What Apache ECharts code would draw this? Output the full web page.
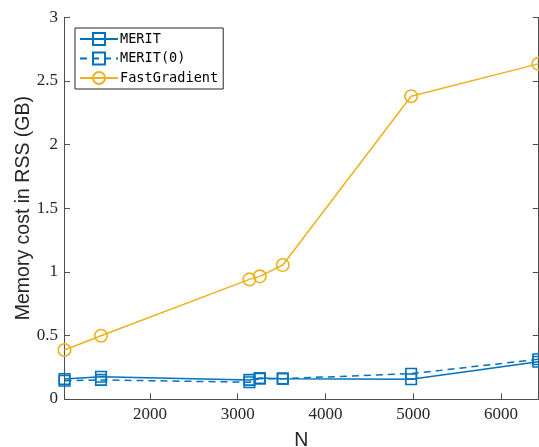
<!DOCTYPE html>
<html>
<head>
<meta charset="utf-8">
<script src="https://cdn.jsdelivr.net/npm/echarts@6/dist/echarts.min.js"></script>
<style>
html,body{margin:0;padding:0;background:#fff;}
#c{width:539px;height:447px;}
</style>
</head>
<body>
<div id="c"></div>
<script>
const N = [1026, 1442, 3133, 3251, 3513, 4976, 6425];
const merit = [0.157, 0.175, 0.15, 0.165, 0.16, 0.155, 0.293];
const merit0 = [0.144, 0.15, 0.132, 0.16, 0.16, 0.199, 0.312];
const fastGradient = [0.385, 0.497, 0.94, 0.964, 1.053, 2.38, 2.634];
const seriesNames = ['MERIT', 'MERIT(0)', 'FastGradient'];
const xTitle = 'N';
const yTitle = 'Memory cost in RSS (GB)';

const BLUE = '#0072BD', GOLD = '#EDB120', AX = '#4d4d4d';
function pairs(ys){ return N.map((x,i)=>[x, ys[i]]); }

const chart = echarts.init(document.getElementById('c'), null, {renderer:'canvas'});
const tickFont = {fontFamily:'Liberation Serif', fontSize:17, color:'#262626'};
const baseAxisLine = {show:true, lineStyle:{color:AX, width:1}};
const baseTick = {show:true, inside:true, length:5.5, lineStyle:{color:AX, width:1}};

chart.setOption({
  animation:false,
  backgroundColor:'#fff',
  grid:{left:64.5, right:0.7, top:17.3, bottom:48, containLabel:false, outerBoundsMode:'none'},
  legend:{
    orient:'vertical', left:75, top:28,
    padding:[4,5,4,4],
    backgroundColor:'#fff', borderColor:'#262626', borderWidth:1, borderRadius:0,
    itemWidth:38, itemHeight:15, itemGap:5.5,
    textStyle:{fontFamily:'DejaVu Sans Mono', fontSize:13.6, color:'#000', padding:[0,0,0,-3]},
    data:seriesNames
  },
  xAxis:[{
    type:'value', min:'dataMin', max:'dataMax', position:'bottom',
    name:xTitle, nameLocation:'middle', nameGap:32, nameMoveOverlap:false,
    nameTextStyle:{fontFamily:'Liberation Sans', fontSize:19.5, color:'#262626'},
    axisLine:baseAxisLine, axisTick:baseTick,
    splitLine:{show:false},
    axisLabel:Object.assign({margin:7, formatter:v => (v % 1000 === 0 ? String(v) : '')}, tickFont)
  },{
    type:'value', min:'dataMin', max:'dataMax', position:'top',
    axisLine:baseAxisLine, axisTick:baseTick, splitLine:{show:false},
    axisLabel:{show:false}
  }],
  yAxis:[{
    type:'value', min:0, max:3, interval:0.5, position:'left',
    name:yTitle, nameLocation:'middle', nameGap:31, nameMoveOverlap:false,
    nameTextStyle:{fontFamily:'Liberation Sans', fontSize:19.5, color:'#262626'},
    axisLine:baseAxisLine, axisTick:baseTick, splitLine:{show:false},
    axisLabel:Object.assign({margin:6.5}, tickFont)
  },{
    type:'value', min:0, max:3, interval:0.5, position:'right',
    axisLine:baseAxisLine, axisTick:baseTick, splitLine:{show:false},
    axisLabel:{show:false}
  }],
  series:[
    {name:seriesNames[0], type:'line', xAxisIndex:0, yAxisIndex:0, data:pairs(merit),
     symbol:'rect', symbolSize:10.5,
     lineStyle:{color:BLUE, width:1.5, type:'solid'},
     itemStyle:{color:'rgba(0,0,0,0)', borderColor:BLUE, borderWidth:1.6},
     z:3},
    {name:seriesNames[1], type:'line', xAxisIndex:0, yAxisIndex:0, data:pairs(merit0),
     symbol:'rect', symbolSize:10.5,
     lineStyle:{color:BLUE, width:1.5, type:[7,5]},
     itemStyle:{color:'rgba(0,0,0,0)', borderColor:BLUE, borderWidth:1.6},
     z:3},
    {name:seriesNames[2], type:'line', xAxisIndex:0, yAxisIndex:0, data:pairs(fastGradient),
     symbol:'circle', symbolSize:12.5,
     lineStyle:{color:GOLD, width:1.5},
     itemStyle:{color:'rgba(0,0,0,0)', borderColor:GOLD, borderWidth:1.6},
     z:3}
  ]
});
</script>
</body>
</html>
